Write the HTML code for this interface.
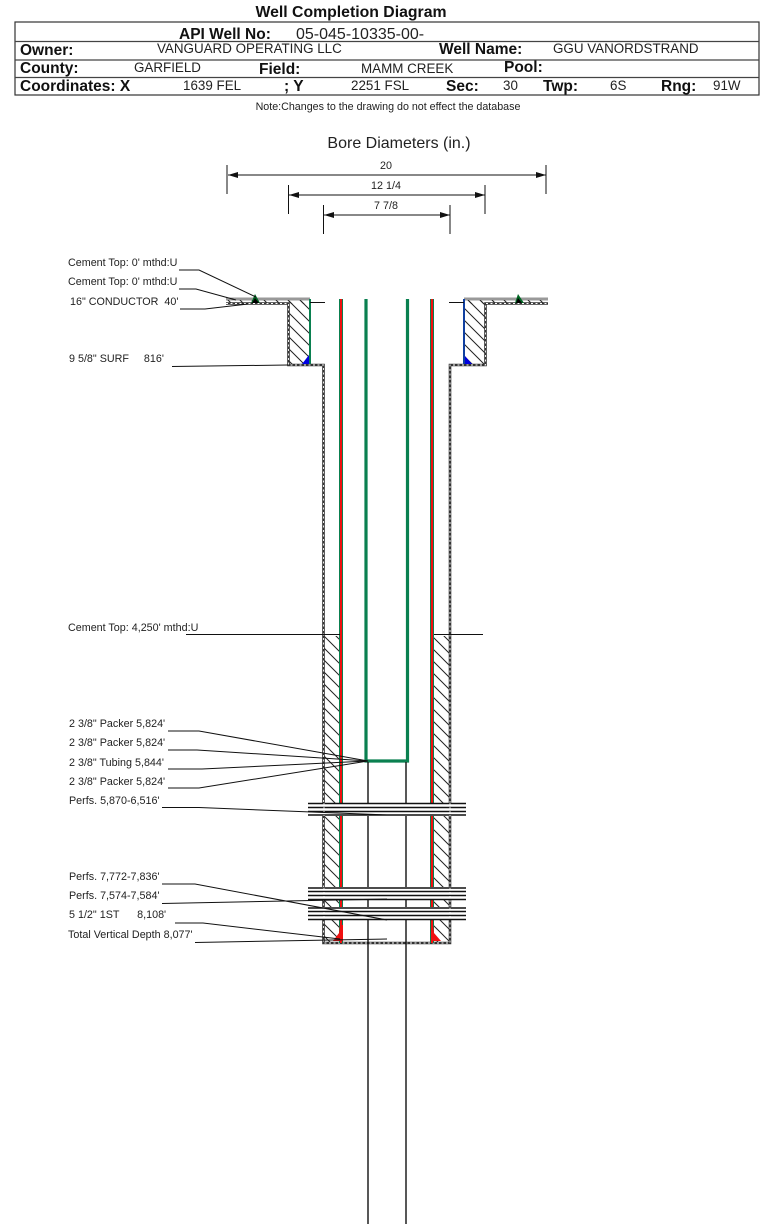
<!DOCTYPE html>
<html><head><meta charset="utf-8"><style>
html,body{margin:0;padding:0;background:#fff}
svg{display:block}
text{font-family:"Liberation Sans",sans-serif;fill:#222;white-space:pre}
.b{font-weight:bold;font-size:15.5px;fill:#111}
.v{font-size:13.4px}
.l{font-size:10.75px}
.ln{stroke:#111;stroke-width:1;fill:none}
.dash{stroke:#333;stroke-width:2.6;fill:none}
.dash2{stroke:#fff;stroke-width:.9;stroke-dasharray:2 2.5;fill:none}
.per{stroke:#111;stroke-width:1.6}
</style></head><body>
<svg width="771" height="1224" viewBox="0 0 771 1224" xmlns="http://www.w3.org/2000/svg">
<defs>
<pattern id="h" width="12" height="12" patternUnits="userSpaceOnUse">
<path d="M-3 -3L15 15M-3 9L3 15M9 -3L15 3" stroke="#222" stroke-width="1"/>
</pattern>
<marker id="ae" markerUnits="userSpaceOnUse" markerWidth="12" markerHeight="8" refX="10" refY="4" orient="auto"><path d="M0 1L10 4L0 7Z" fill="#111"/></marker>
<marker id="as" markerUnits="userSpaceOnUse" markerWidth="12" markerHeight="8" refX="1" refY="4" orient="auto"><path d="M11 1L1 4L11 7Z" fill="#111"/></marker>
</defs>

<text x="351" y="17" text-anchor="middle" style="font-weight:bold;font-size:15.8px;fill:#111">Well Completion Diagram</text>
<rect x="15" y="22" width="744" height="73" fill="none" stroke="#333" stroke-width="1.2"/>
<path d="M15 41.5H759M15 60H759M15 77.5H759" stroke="#444" stroke-width="1.2"/>
<text class="b" x="179" y="39">API Well No:</text>
<text x="296" y="39" style="font-size:16px">05-045-10335-00-</text>
<text class="b" x="20" y="55">Owner:</text>
<text class="v" x="157" y="53">VANGUARD OPERATING LLC</text>
<text class="b" x="439" y="54">Well Name:</text>
<text class="v" x="553" y="53">GGU VANORDSTRAND</text>
<text class="b" x="20" y="73">County:</text>
<text class="v" x="134" y="72">GARFIELD</text>
<text class="b" x="259" y="74">Field:</text>
<text class="v" x="361" y="73">MAMM CREEK</text>
<text class="b" x="504" y="72">Pool:</text>
<text class="b" x="20" y="91">Coordinates: X</text>
<text class="v" x="183" y="90">1639 FEL</text>
<text class="b" x="284" y="91">; Y</text>
<text class="v" x="351" y="90">2251 FSL</text>
<text class="b" x="446" y="91">Sec:</text>
<text class="v" x="503" y="90">30</text>
<text class="b" x="543" y="91">Twp:</text>
<text class="v" x="610" y="90">6S</text>
<text class="b" x="661" y="91">Rng:</text>
<text class="v" x="713" y="90">91W</text>
<text x="388" y="110" text-anchor="middle" style="font-size:10.7px">Note:Changes to the drawing do not effect the database</text>

<text x="399" y="148" text-anchor="middle" style="font-size:16px">Bore Diameters (in.)</text>
<text x="386" y="169" text-anchor="middle" class="l">20</text>
<text x="386" y="189" text-anchor="middle" class="l">12 1/4</text>
<text x="386" y="209" text-anchor="middle" class="l">7 7/8</text>
<path class="ln" d="M227 165V194M546 165V194M288.500 185V214M485 185V214M323.500 205V234M450 205V234"/>
<path class="ln" d="M228 175H546" marker-start="url(#as)" marker-end="url(#ae)"/>
<path class="ln" d="M289 195H485" marker-start="url(#as)" marker-end="url(#ae)"/>
<path class="ln" d="M324 215H450" marker-start="url(#as)" marker-end="url(#ae)"/>

<!-- cement hatches -->
<rect x="288" y="301" width="21" height="63" fill="url(#h)"/>
<rect x="465" y="301" width="21" height="63" fill="url(#h)"/>
<rect x="226" y="300" width="84" height="4" fill="url(#h)"/>
<rect x="464" y="300" width="84" height="4" fill="url(#h)"/>
<rect x="324" y="636" width="16" height="306" fill="url(#h)"/>
<rect x="434" y="636" width="16" height="306" fill="url(#h)"/>

<!-- surface casing outlines -->
<path class="dash" d="M226 299H310M226 303.500H288.500V365H323.500V943H450V365H485.500V303.500H548M464 299H548"/>
<path class="dash2" d="M226 303.500H288.500V365H323.500V943H450V365H485.500V303.500H548"/>
<path d="M226 299H310M464 299H548" stroke="#bbb" stroke-width="1.4"/>
<path d="M310 299V364" stroke="#0a8050" stroke-width="2"/>
<path d="M464 299V364" stroke="#1040a0" stroke-width="2"/>
<path d="M302 364L309 355V364Z" fill="#0000e0"/>
<path d="M465 356L472 364H465Z" fill="#0000e0"/>
<path d="M251 303L255 294L260 303Z" fill="#062"/><path d="M252 303L255 298L259 303Z" fill="#000"/>
<path d="M515 303L518 294L524 303Z" fill="#062"/><path d="M516 303L518 298L522 303Z" fill="#000"/>
<path class="ln" d="M310 302.500H325M449 302.500H464"/>

<!-- inner casing (red/green) -->
<path d="M341 299V943M432 299V943" stroke="#0a8050" stroke-width="4"/>
<path d="M341 299V943M432 299V943" stroke="#f01010" stroke-width="2"/>
<path d="M333 941L339 933L340 925H343V941ZM441 941L434 933L433 925H431V941Z" fill="#f01010"/>
<!-- tubing -->
<path d="M366 299V761H407.500V299" fill="none" stroke="#0a8050" stroke-width="3.200"/>
<path d="M368 762V1224M406 762V1224" stroke="#111" stroke-width="1.400"/>

<!-- perforations -->
<rect x="308" y="803" width="158" height="13" fill="#fff"/>
<rect x="308" y="887" width="158" height="13" fill="#fff"/>
<rect x="308" y="907" width="158" height="13" fill="#fff"/>
<path class="per" d="M308 803.500H466M308 807.500H466M308 811.500H466M308 815H466"/>
<path class="per" d="M308 888H466M308 891.500H466M308 895.500H466M308 899.500H466M308 908H466M308 911.500H466M308 915.500H466M308 919.500H466"/>
<path d="M324 803V816M450 803V816M324 888V900M450 888V900M324 908V920M450 908V920" stroke="#fff" stroke-width=".8" stroke-dasharray="2 2"/>

<!-- labels -->
<text class="l" x="68" y="266">Cement Top: 0' mthd:U</text>
<text class="l" x="68" y="285">Cement Top: 0' mthd:U</text>
<text class="l" x="70" y="305">16" CONDUCTOR  40'</text>
<text class="l" x="69" y="362">9 5/8" SURF     816'</text>
<text class="l" x="68" y="631">Cement Top: 4,250' mthd:U</text>
<text class="l" x="69" y="727">2 3/8" Packer 5,824'</text>
<text class="l" x="69" y="746">2 3/8" Packer 5,824'</text>
<text class="l" x="69" y="766">2 3/8" Tubing 5,844'</text>
<text class="l" x="69" y="785">2 3/8" Packer 5,824'</text>
<text class="l" x="69" y="804">Perfs. 5,870-6,516'</text>
<text class="l" x="69" y="880">Perfs. 7,772-7,836'</text>
<text class="l" x="69" y="899">Perfs. 7,574-7,584'</text>
<text class="l" x="69" y="918">5 1/2" 1ST      8,108'</text>
<text class="l" x="68" y="938">Total Vertical Depth 8,077'</text>
<g class="ln">
<path d="M179 270H199L256 297"/>
<path d="M179 289H196L236 300"/>
<path d="M180 309H205L248 304"/>
<path d="M172 366.500L288 365"/>
<path d="M186 634.500H340M434 634.500H483"/>
<path d="M168 731H199L368 761"/>
<path d="M168 750H197L368 761"/>
<path d="M168 769H202L368 761"/>
<path d="M168 788H199L368 761"/>
<path d="M162 807.500H199L387 815"/>
<path d="M162 884H195L387 920"/>
<path d="M162 903.500L387 899"/>
<path d="M175 923H203L340 939"/>
<path d="M195 942.500L387 939"/>
</g>
</svg>
</body></html>
